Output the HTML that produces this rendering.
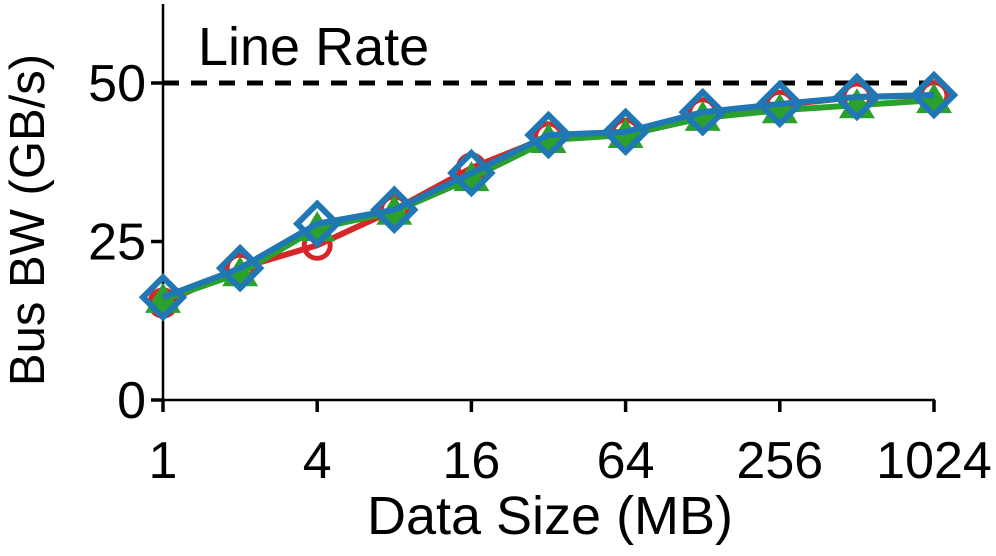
<!DOCTYPE html>
<html><head><meta charset="utf-8"><style>
body{margin:0;background:#fff}
svg text{font-family:"Liberation Sans",sans-serif;fill:#000}
</style></head><body>
<svg id="c" width="996" height="551" xmlns="http://www.w3.org/2000/svg"></svg>
<script>
const sizes=[1,2,4,8,16,32,64,128,256,512,1024];
const xTicks=[1,4,16,64,256,1024];
const yTicks=[0,25,50];
const redVals=[15.3,20.8,24.4,30,36.6,41.5,42.1,45.3,46.5,47.8,48];
const greenVals=[15.8,20,27.1,29.7,35,41,41.8,44.5,45.7,46.5,47.3];
const blueVals=[16.2,20.8,27.8,30,35.8,41.8,42.3,45.4,46.7,47.8,48.1];
const lineRate=50;
const svg=document.getElementById('c');const NS='http://www.w3.org/2000/svg';
const X=v=>163+Math.log2(v)*77.1;
const Y=v=>400-v*6.34;
function mk(t,a,p){const e=document.createElementNS(NS,t);for(const k in a)e.setAttribute(k,a[k]);(p||svg).appendChild(e);return e;}
let e;
e=mk('line',{x1:163,y1:4,x2:163,y2:400,stroke:'#000','stroke-width':2.5});


e=mk('line',{x1:162,y1:400,x2:935,y2:400,stroke:'#000','stroke-width':2.5});


yTicks.forEach(v=>{
 e=mk('line',{x1:151,y1:Y(v),x2:163,y2:Y(v),stroke:'#000','stroke-width':3.5});
 
 
 e=mk('text',{x:146,y:Y(v)+18,'text-anchor':'end','font-size':52});e.textContent=v;
 
 
});
xTicks.forEach(v=>{
 e=mk('line',{x1:X(v),y1:400,x2:X(v),y2:412,stroke:'#000','stroke-width':3.5});
 
 
 e=mk('text',{x:X(v),y:478,'text-anchor':'middle','font-size':52});e.textContent=v;
 
 
});
e=mk('line',{x1:163,y1:Y(lineRate),x2:934,y2:Y(lineRate),stroke:'#000','stroke-width':5,'stroke-dasharray':'16,12'});


e=mk('text',{x:198,y:65,'font-size':54});e.textContent='Line Rate';


e=mk('text',{x:550,y:534,'text-anchor':'middle','font-size':54});e.textContent='Data Size (MB)';


e=mk('text',{x:0,y:0,'text-anchor':'middle','font-size':49,transform:'translate(44,220) rotate(-90)'});e.textContent='Bus BW (GB/s)';


function series(vals,color,marker,name){
 const g=mk('g',{});
 
 
 const pts=vals.map((v,i)=>X(sizes[i])+','+Y(v)).join(' ');
 e=mk('polyline',{points:pts,fill:'none',stroke:color,'stroke-width':6,'stroke-linejoin':'round'},g);
 
 
 vals.forEach((v,i)=>{
  const x=X(sizes[i]),y=Y(v);
  if(marker==='circle')e=mk('circle',{cx:x,cy:y,r:13,fill:'none',stroke:color,'stroke-width':5},g);
  else if(marker==='tri')e=mk('polygon',{points:`${x},${y-17} ${x+18},${y+13} ${x-18},${y+13}`,fill:color},g);
  else e=mk('polygon',{points:`${x},${y-20} ${x+20},${y} ${x},${y+20} ${x-20},${y}`,fill:'none',stroke:color,'stroke-width':6},g);
  
  
 });
}
series(redVals,'#d62728','circle','red');
series(greenVals,'#2ca02c','tri','green');
series(blueVals,'#1f77b4','diamond','blue');
</script>
</body></html>
